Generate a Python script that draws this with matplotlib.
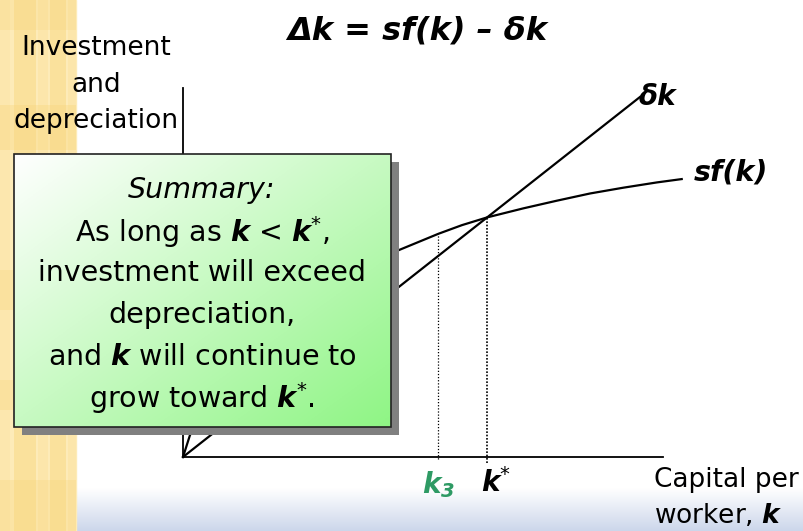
import numpy as np
import matplotlib
matplotlib.use("Agg")
import matplotlib.pyplot as plt
from matplotlib.patches import Rectangle

plt.rcParams['font.family'] = ['DejaVu Sans']
plt.rcParams['mathtext.fontset'] = 'dejavusans'

# ---- data (units: arbitrary, origin at axes corner) ----
k_sf = [0.0, 0.146, 1.25, 2.71, 3.70, 4.52, 5.32, 5.81, 6.33, 7.09, 7.79, 8.48, 9.17, 9.87, 10.39]
sf_vals = [0.0, 0.458, 2.08, 3.44, 3.97, 4.32, 4.65, 4.83, 4.99, 5.18, 5.34, 5.49, 5.61, 5.72, 5.79]
k_dep = [0.0, 9.52]
dep_vals = [0.0, 7.50]
k_star = 6.33
y_star = 4.99
k_3 = 5.32
y_3 = 4.65
x_axis_end = 10.0
y_axis_end = 7.69

PX = 48.0  # pixels per unit (layout)
W, H = 804, 531
ox, oy = 183, 457

fig = plt.figure(figsize=(W / 100, H / 100), dpi=100)

# background axes in pixel coordinates
bg = fig.add_axes([0, 0, 1, 1], zorder=0)
bg.axis('off')
bg.add_patch(Rectangle((0, 0), W, H, color='white', zorder=0))
grad = np.linspace(0, 1, 64)[:, None]
c0 = np.array([1.0, 1.0, 1.0])
c1 = np.array([0.80, 0.84, 0.92])
band = c0[None, None, :] * (1 - grad[..., None]) + c1[None, None, :] * grad[..., None]
band = np.repeat(band, 2, axis=1)
bg.imshow(band, extent=[75, W, H, 488], aspect='auto', zorder=1)
bg.add_patch(Rectangle((0, 0), 76, H, color='#fdebb8', zorder=2))
for x0, w, a in [(0, 10, 0.15), (14, 22, 0.45), (38, 10, 0.2), (50, 16, 0.45), (68, 8, 0.2)]:
    bg.add_patch(Rectangle((x0, 0), w, H, color='#f8d57a', alpha=a, lw=0, zorder=3))
for y0, h, a in [(0, 30, 0.25), (105, 45, 0.35), (270, 40, 0.3), (380, 30, 0.3), (480, 51, 0.3)]:
    bg.add_patch(Rectangle((0, y0), 76, h, color='#f8d57a', alpha=a, lw=0, zorder=3))
bg.set_xlim(0, W)
bg.set_ylim(H, 0)

# main data axes
ax = fig.add_axes([0, 0, 1, 1], zorder=1)
ax.patch.set_alpha(0)
ax.set_xlim(-ox / PX, (W - ox) / PX)
ax.set_ylim(-(H - oy) / PX, oy / PX)
ax.axis('off')

ax.plot([0, x_axis_end], [0, 0], color='black', lw=1.3)
ax.plot([0, 0], [0, y_axis_end], color='black', lw=1.3)
ax.plot(k_dep, dep_vals, color='black', lw=1.6)
ax.plot(k_sf, sf_vals, color='black', lw=1.6, solid_joinstyle='round')
ax.plot([k_star, k_star], [-0.12, y_star], color='black', lw=1.2, ls=(0, (1, 1)))
ax.plot([k_3, k_3], [-0.04, y_3], color='black', lw=0.9, ls=(0, (1, 1.5)))

ax.text(k_dep[-1] - 0.02, dep_vals[-1], 'δk', fontsize=20, fontweight='bold',
        style='italic', ha='left', va='center')
ax.text(k_sf[-1] + 0.25, sf_vals[-1] + 0.13, 'sf(k)', fontsize=20.5, fontweight='bold',
        style='italic', ha='left', va='center')
ax.text(k_3, -0.58, r'$\mathbfit{k}_{\mathbfit{3}}$', fontsize=20, color='#2e9a64',
        ha='center', va='center')
ax.text(k_star + 0.2, -0.55, r'$\mathbfit{k}^{*}$', fontsize=20, color='black',
        ha='center', va='center')

# overlay in pixel coordinates
ov = fig.add_axes([0, 0, 1, 1], zorder=2)
ov.patch.set_alpha(0)
ov.axis('off')

ov.text(417, 31, 'Δk = sf(k) – δk', fontsize=23, fontweight='bold', style='italic',
        ha='center', va='center')
for yy, s in [(48, 'Investment'), (85, 'and'), (121, 'depreciation')]:
    ov.text(96, yy, s, fontsize=19, ha='center', va='center')
ov.text(654, 480, 'Capital per', fontsize=19, ha='left', va='center')
ov.text(654, 516, r'worker, $\mathbfit{k}$', fontsize=19, ha='left', va='center')

# summary box
bx0, by0, bx1, by1 = 14, 154, 391, 427
ov.add_patch(Rectangle((bx0 + 8, by0 + 8), bx1 - bx0, by1 - by0, color='#808080', lw=0, zorder=3))
nx, ny = 200, 150
gx = np.linspace(0, 1, nx)[None, :]
gy = np.linspace(0, 1, ny)[:, None]
t = (gx + gy) / 2
white = np.array([1.0, 1.0, 1.0])
green = np.array([0.56, 0.96, 0.52])
img = white[None, None, :] * (1 - t[..., None]) + green[None, None, :] * t[..., None]
ov.imshow(img, extent=[bx0, bx1, by1, by0], aspect='auto', zorder=4)
ov.add_patch(Rectangle((bx0, by0), bx1 - bx0, by1 - by0, fill=False, ec='#222222', lw=1.2, zorder=5))
ov.set_xlim(0, W)
ov.set_ylim(H, 0)

cx = 202
lines = [
    (190, 'Summary:', 'italic'),
    (232, r'As long as $\mathbfit{k}$ < $\mathbfit{k}^{*}$,', 'normal'),
    (273, 'investment will exceed', 'normal'),
    (315, 'depreciation,', 'normal'),
    (357, r'and $\mathbfit{k}$ will continue to', 'normal'),
    (398, r'grow toward $\mathbfit{k}^{*}$.', 'normal'),
]
for yy, s, st in lines:
    ov.text(cx, yy, s, fontsize=20.5, style=st, ha='center', va='center', zorder=6)

fig.savefig('out.png', dpi=100)
